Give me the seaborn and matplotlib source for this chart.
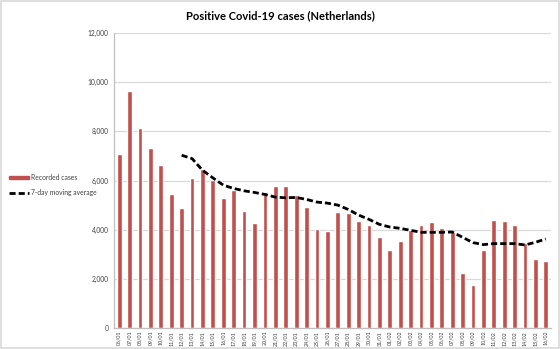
import numpy as np
import pandas as pd
import matplotlib
matplotlib.use("Agg")
import matplotlib.pyplot as plt
import matplotlib.patches as mpatches
from matplotlib.lines import Line2D
from matplotlib.ticker import FuncFormatter, MultipleLocator
import seaborn as sns

dates = ["06/01", "07/01", "08/01", "09/01", "10/01", "11/01", "12/01", "13/01", "14/01",
         "15/01", "16/01", "17/01", "18/01", "19/01", "20/01", "21/01", "22/01", "23/01",
         "24/01", "25/01", "26/01", "27/01", "28/01", "29/01", "30/01", "31/01", "01/02",
         "02/02", "03/02", "04/02", "05/02", "06/02", "07/02", "08/02", "09/02", "10/02",
         "11/02", "12/02", "13/02", "14/02", "15/02", "16/02"]
cases = [7095, 9635, 8135, 7324, 6622, 5432, 4878, 6108, 6473, 6014, 5270, 5608, 4757,
         4284, 5527, 5784, 5757, 5405, 4919, 4014, 3932, 4730, 4662, 4351, 4176, 3703,
         3189, 3554, 3986, 4203, 4324, 4081, 3919, 2230, 1743, 3189, 4405, 4338, 4203,
         3446, 2811, 2743]
moving_avg = [np.nan] * 6 + [7027, 6892, 6419, 6108, 5811, 5676, 5581, 5514, 5432, 5324,
              5297, 5311, 5230, 5122, 5080, 5000, 4824, 4595, 4419, 4216, 4108, 4054,
              3973, 3892, 3892, 3892, 3905, 3689, 3473, 3392, 3432, 3432, 3432, 3378,
              3486, 3622]

title = "Positive Covid-19 cases (Netherlands)"
bar_label = "Recorded cases"
line_label = "7-day moving average"

bar_color = "#C0504D"
grid_color = "#D9D9D9"

sns.set_theme(style="white")
plt.rcParams["font.family"] = ["Lato", "DejaVu Sans"]

df = pd.DataFrame({"date": dates, "cases": cases, "ma": moving_avg})
df["pos"] = np.arange(len(df))

fig = plt.figure(figsize=(5.6, 3.49), dpi=100)
ax = fig.add_axes([0.2036, 0.0602, 0.7804, 0.8452])

sns.barplot(data=df, x="pos", y="cases", color=bar_color, width=0.46,
            saturation=1, ax=ax, zorder=2)
sns.lineplot(data=df.dropna(), x="pos", y="ma", color="black", lw=2,
             linestyle=(0, (2.2, 1.1)), ax=ax, zorder=3)

ax.set_ylim(0, 12000)
ax.set_xlim(-0.5, len(dates) - 0.5)
ax.yaxis.set_major_locator(MultipleLocator(2000))
ax.yaxis.set_major_formatter(FuncFormatter(lambda v, p: f"{int(v):,}"))
ax.set_xticks(df["pos"])
ax.set_xticklabels(dates, rotation=90, fontsize=3.9, color="#404040")
ax.tick_params(axis="x", length=0, pad=2)
ax.tick_params(axis="y", labelsize=4.8, labelcolor="#404040", length=0, pad=4)
ax.set_xlabel("")
ax.set_ylabel("")

ax.grid(axis="y", color=grid_color, lw=0.9, zorder=0)
ax.set_axisbelow(True)
for s in ["top", "right"]:
    ax.spines[s].set_visible(False)
for s in ["left", "bottom"]:
    ax.spines[s].set_color("#BFBFBF")
    ax.spines[s].set_linewidth(0.9)

# minor ticks between categories on the x axis
ax.set_xticks(np.arange(-0.5, len(dates), 1), minor=True)
ax.tick_params(axis="x", which="minor", length=3, color="#BFBFBF", width=0.7, direction="out")

fig.text(0.5, 0.955, title, ha="center", va="center", fontsize=8.0,
         fontweight="bold", color="black")

handles = [mpatches.Patch(color=bar_color, label=bar_label),
           Line2D([0], [0], color="black", lw=2, linestyle=(0, (2.2, 1.1)), label=line_label)]
fig.legend(handles=handles, loc="center left", bbox_to_anchor=(0.005, 0.47),
           frameon=False, fontsize=4.9, handlelength=3.0, handleheight=0.5,
           labelspacing=1.2, handletextpad=0.2, labelcolor="#404040")

fig.patches.append(mpatches.Rectangle((0.001, 0.002), 0.997, 0.995, transform=fig.transFigure,
                                      fill=False, edgecolor=grid_color, lw=1.2))

fig.savefig("out.png", dpi=100)
